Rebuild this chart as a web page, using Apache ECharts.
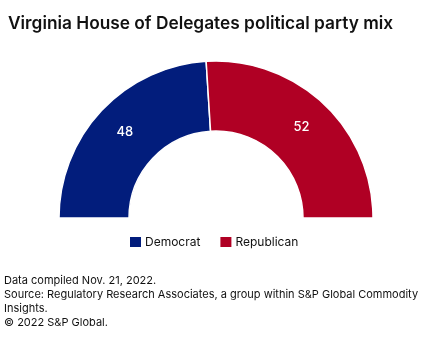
<!DOCTYPE html>
<html>
<head>
<meta charset="utf-8">
<script src="https://cdn.jsdelivr.net/npm/echarts@6/dist/echarts.min.js"></script>
<style>html,body{margin:0;padding:0;background:#fff}#c{width:425px;height:338px}</style>
</head>
<body>
<div id="c"></div>
<script>
const categories = ['Democrat', 'Republican'];
const seats = [48, 52];
const colors = ['#021d7c', '#b00024'];
const titleText = 'Virginia House of Delegates political party mix';
const footLines = [
  'Data compiled Nov. 21, 2022.',
  'Source: Regulatory Research Associates, a group within S&P Global Commodity',
  'Insights.',
  '\u00a9 2022 S&P Global.'
];

const chart = echarts.init(document.getElementById('c'), null, {renderer: 'canvas'});
const FONT = 'Inter, "Noto Sans", sans-serif';
chart.setOption({
  animation: false,
  title: {
    text: titleText,
    left: 3, top: 10,
    textStyle: {fontFamily: FONT, fontWeight: 600, fontSize: 17.3, color: '#111'}
  },
  legend: {
    data: categories,
    left: 130, top: 236, padding: 0,
    icon: 'rect', itemWidth: 11, itemHeight: 10, itemGap: 20,
    itemStyle: {borderWidth: 0},
    textStyle: {fontFamily: FONT, fontSize: 12, color: '#111', padding: [0, 0, 0, -1]}
  },
  series: [{
    type: 'pie',
    center: [216, 218],
    radius: [87, 157],
    startAngle: 180,
    endAngle: 360,
    clockwise: true,
    data: categories.map((c, i) => ({name: c, value: seats[i], itemStyle: {color: colors[i]}})),
    itemStyle: {borderColor: '#fff', borderWidth: 1.5},
    label: {show: true, position: 'inside', formatter: '{c}', color: '#fff', fontFamily: FONT, fontSize: 13, fontWeight: 500},
    labelLine: {show: false},
    emphasis: {disabled: true}
  }],
  graphic: footLines.map((t, i) => ({
    type: 'text', left: 4, top: 275 + i * 14,
    style: {text: t, font: '11px ' + FONT, fill: '#111'}
  }))
});
</script>
</body>
</html>
